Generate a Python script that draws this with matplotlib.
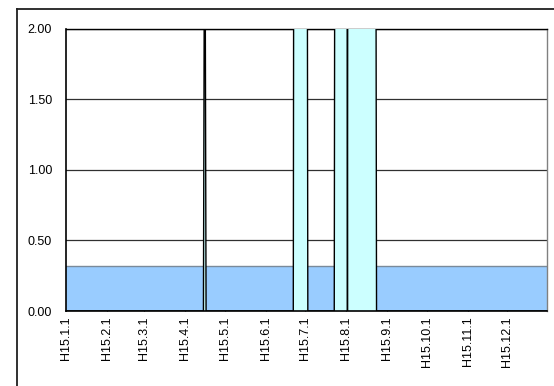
import matplotlib
matplotlib.use("Agg")
import matplotlib.pyplot as plt
from matplotlib.lines import Line2D
import numpy as np
import pandas as pd

plt.rcParams['font.family'] = ['Liberation Sans', 'DejaVu Sans']

# Daily record for H15 (2003)
year_start = "2003-01-01"
year_end = "2003-12-31"

# Standard level shown as the blue band
standard_level = 0.32

# Days with measured values above zero (all other days read 0)
event_dates = (
    ["2003-04-16"]
    + [d.strftime("%Y-%m-%d") for d in pd.date_range("2003-06-23", "2003-07-02")]
    + [d.strftime("%Y-%m-%d") for d in pd.date_range("2003-07-24", "2003-08-01")]
    + [d.strftime("%Y-%m-%d") for d in pd.date_range("2003-08-03", "2003-08-23")]
)
event_values = [
    3.6,
    8.5, 24.0, 31.5, 18.2, 12.7, 9.4, 15.8, 21.3, 11.6, 6.9,
    7.2, 14.5, 26.8, 19.1, 10.3, 13.9, 22.4, 16.7, 9.8,
    12.4, 28.6, 35.2, 22.9, 17.5, 11.8, 19.7, 27.3, 15.1, 9.6, 13.2,
    24.8, 18.4, 10.9, 8.3, 14.6, 20.1, 16.3, 11.2, 7.8, 5.9,
]

tick_labels = ["H15.1.1", "H15.2.1", "H15.3.1", "H15.4.1", "H15.5.1", "H15.6.1",
               "H15.7.1", "H15.8.1", "H15.9.1", "H15.10.1", "H15.11.1", "H15.12.1"]
tick_dates = ["2003-%02d-01" % m for m in range(1, 13)]

y_ticks = [0.0, 0.5, 1.0, 1.5, 2.0]

# Build the daily series
days = pd.date_range(year_start, year_end, freq="D")
series = pd.Series(0.0, index=days)
series.loc[pd.to_datetime(event_dates)] = event_values
x = np.asarray((days - days[0]).days, dtype=float)
y = series.values
tick_x = [(pd.Timestamp(d) - days[0]).days for d in tick_dates]

W, H = 554, 386
fig = plt.figure(figsize=(W / 100, H / 100), dpi=100)
ax = fig.add_axes([66 / W, 1 - 311 / H, (547 - 66) / W, (311 - 28.5) / H])

# Blue standard band
ax.fill_between(x, 0, standard_level, color="#99CCFF", lw=0, zorder=2)
ax.plot(x, np.full_like(x, standard_level), color="#7A8A9A", lw=1.0, zorder=2.5)

# Measured values
ax.fill_between(x, 0, y, color="#CCFFFF", lw=0, zorder=3)
ax.plot(x, y, color="black", lw=1.0, zorder=4)

ax.set_xlim(x[0], x[-1])
ax.set_ylim(0, 2.0)

ax.set_yticks(y_ticks)
ax.set_yticklabels(["%.2f" % v for v in y_ticks])
ax.tick_params(axis="y", length=0, pad=10, labelsize=9, colors="black")
ax.yaxis.grid(True, color="#303030", lw=0.9)
ax.set_axisbelow(True)

ax.set_xticks(tick_x)
ax.set_xticklabels(tick_labels, rotation=90, va="top", ha="center")
ax.tick_params(axis="x", direction="in", length=3, width=0.8, pad=4,
               labelsize=9, colors="black")

for side in ["left", "bottom"]:
    ax.spines[side].set_color("black")
    ax.spines[side].set_linewidth(1.2)
    ax.spines[side].set_zorder(5)
ax.spines["top"].set_color("black")
ax.spines["top"].set_linewidth(1.0)
ax.spines["right"].set_color("#808080")
ax.spines["right"].set_linewidth(1.0)

# Outer chart frame
fx = 17 / W
fy = 1 - 9 / H
fig.add_artist(Line2D([fx, fx], [-0.1, fy], transform=fig.transFigure,
                      color="#202020", lw=1.3))
fig.add_artist(Line2D([fx, 1.1], [fy, fy], transform=fig.transFigure,
                      color="#202020", lw=1.3))

fig.savefig("out.png", dpi=100)
